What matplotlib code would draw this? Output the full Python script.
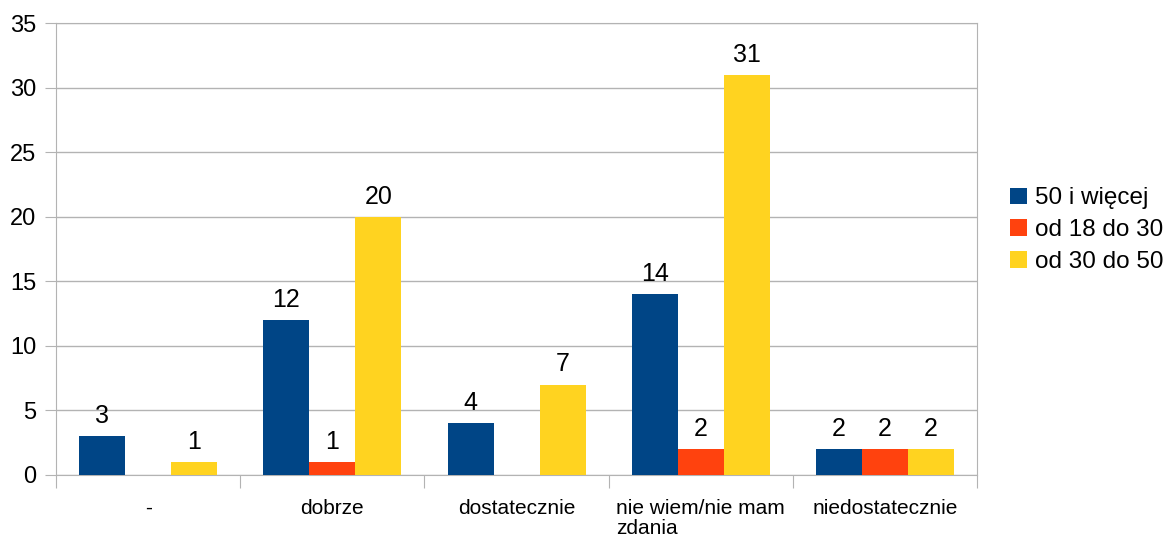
import numpy as np
import matplotlib.pyplot as plt

plt.rcParams['font.family'] = ['Liberation Sans', 'DejaVu Sans']

categories = ['-', 'dobrze', 'dostatecznie', 'nie wiem/nie mam\nzdania', 'niedostatecznie']
series_names = ['50 i więcej', 'od 18 do 30', 'od 30 do 50']
vals_50plus = [3, 12, 4, 14, 2]
vals_18_30 = [0, 1, 0, 2, 2]
vals_30_50 = [1, 20, 7, 31, 2]
colors = ['#004586', '#ff420e', '#ffd320']

fig = plt.figure(figsize=(11.72, 5.37), dpi=100)
ax = fig.add_axes([0.0478, 0.1155, 0.786, 0.8415])

x = np.arange(len(categories))
w = 0.25
for i, (vals, name, c) in enumerate(zip([vals_50plus, vals_18_30, vals_30_50], series_names, colors)):
    bars = ax.bar(x + (i - 1) * w, vals, w, color=c, label=name, zorder=3)
    for b, v in zip(bars, vals):
        if v > 0:
            ax.annotate(str(v), (b.get_x() + b.get_width() / 2, v),
                        xytext=(0, 9.5), textcoords='offset points',
                        ha='center', va='baseline', fontsize=18)

ax.set_xlim(-0.5, len(categories) - 0.5)
ax.set_ylim(0, 35)
ax.set_yticks(range(0, 36, 5))
ax.yaxis.grid(True, color='#b3b3b3', linewidth=1, zorder=0)

# category labels between boundary ticks
ax.set_xticks(np.arange(-0.5, len(categories), 1))
ax.set_xticklabels([])
ax.set_xticks(x, minor=True)
ax.set_xticklabels(categories, minor=True, fontsize=15, multialignment='left',
                   linespacing=1.1)
ax.tick_params(axis='x', which='minor', length=0, pad=17)
ax.tick_params(axis='x', which='major', length=9, color='#b3b3b3')
ax.tick_params(axis='y', labelsize=17, length=8, color='#b3b3b3', pad=6)

for s in ax.spines.values():
    s.set_color('#b3b3b3')

ax.legend(loc='center left', bbox_to_anchor=(1.036, 0.542), frameon=False,
          fontsize=17.5, handlelength=0.67, handleheight=0.67, handletextpad=0.33,
          labelspacing=0.4, borderpad=0, borderaxespad=0)

plt.savefig('out.png', dpi=100)
